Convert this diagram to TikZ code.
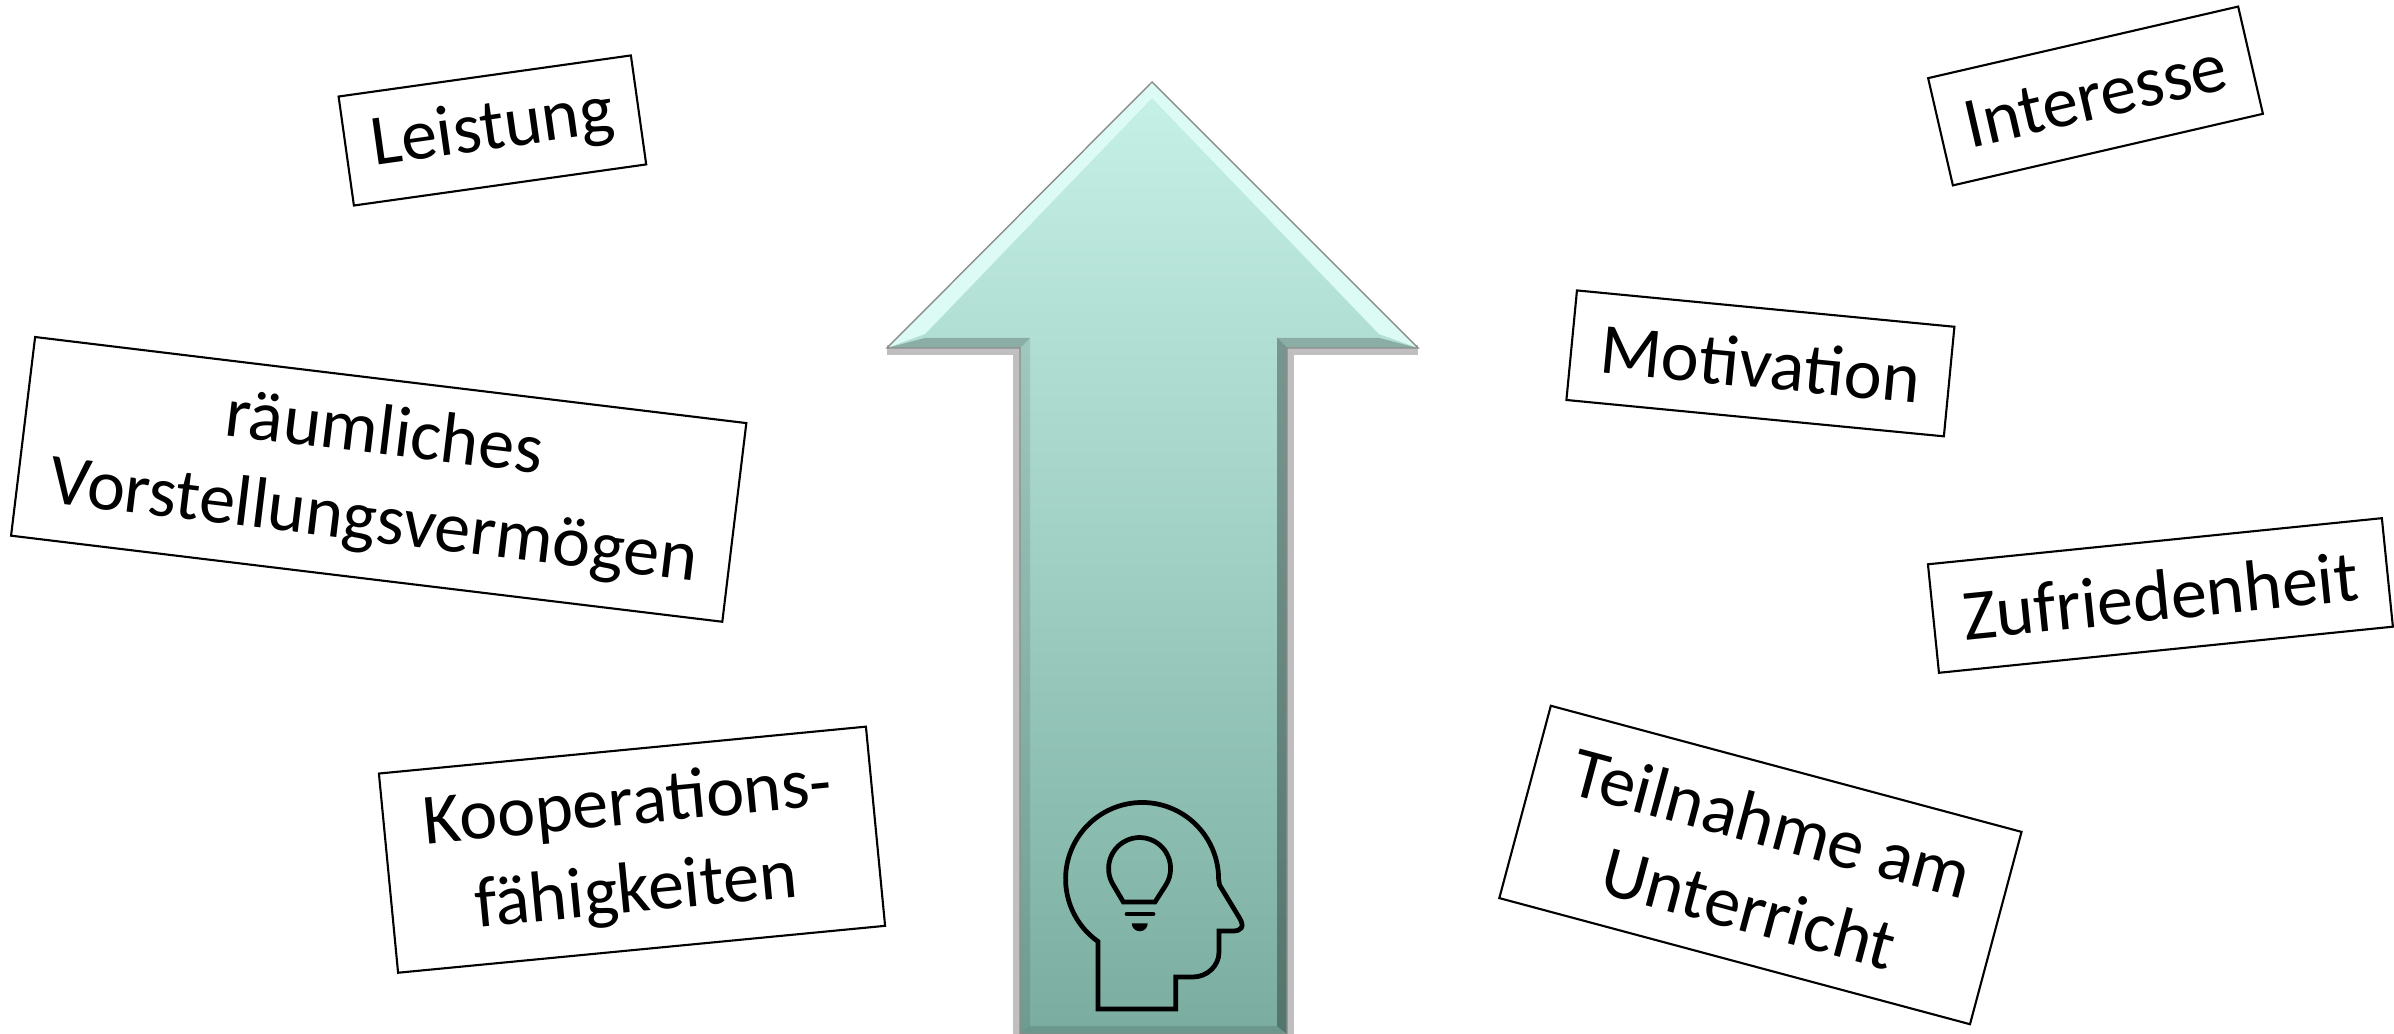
\documentclass[tikz,border=0pt]{standalone}
\usepackage{fontspec}
\setmainfont{Carlito}
\usepackage{xcolor}
\definecolor{arrowtop}{RGB}{198,241,231}
\definecolor{arrowbottom}{RGB}{122,173,160}
\definecolor{bevellight}{RGB}{220,251,245}
\begin{document}
\begin{tikzpicture}[x=0.01cm,y=0.01cm,
        term box/.style={draw=black,line width=0.6pt,fill=white,inner sep=0pt,align=center,
          font=\fontsize{20.5}{25}\selectfont},
        bevel dark/.style={fill=black,fill opacity=#1,draw=none},
        icon line/.style={draw=black,line width=1.35pt,line join=miter}
      ]
      \useasboundingbox (0,0) rectangle (2394,1034);

      % big arrow
      \draw[black,opacity=.25,line width=3pt] (887,684) -- (1018,684) -- (1018,0);
      \draw[black,opacity=.25,line width=3pt] (1418,684) -- (1289,684) -- (1289,0);
      \shade[top color=arrowtop,bottom color=arrowbottom]
        (1152,952) -- (1418,686) -- (1287,686) -- (1287,0) -- (1020,0) -- (1020,686) -- (887,686) -- cycle;

      % bevel of the arrow
      \fill[bevellight] (1152,952) -- (887,686) -- (925,700) -- (1152,936) -- (1379,700) -- (1418,686) -- cycle;
      \path[bevel dark=.22] (887,686) -- (1020,686) -- (1030,696) -- (925,696) -- cycle;
      \path[bevel dark=.22] (1418,686) -- (1287,686) -- (1277,696) -- (1379,696) -- cycle;
      \path[bevel dark=.10] (1020,686) -- (1030,696) -- (1030,8) -- (1020,0) -- cycle;
      \path[bevel dark=.32] (1287,686) -- (1277,696) -- (1277,8) -- (1287,0) -- cycle;
      \path[bevel dark=.12] (1020,0) -- (1030,8) -- (1277,8) -- (1287,0) -- cycle;
      \draw[black!45,line width=0.4pt] (1152,952) -- (1418,686) -- (1287,686) -- (1287,0) -- (1020,0) -- (1020,686) -- (887,686) -- cycle;

      % head with lamp
      \draw[icon line] (1098,25) -- (1098,92.5) arc[start angle=234.8,end angle=0,radius=76.5]
        -- (1219.5,149) -- (1239.5,116) .. controls (1245,107) and (1241,103) .. (1233,103)
        -- (1219,103) -- (1219,82) .. controls (1219,68) and (1207,57) .. (1193,57)
        -- (1175.7,57) -- (1175.7,25) -- cycle;
      \draw[icon line] (1123.3,132) -- (1113.3,149) arc[start angle=212,end angle=-32,radius=31] -- (1155,132) -- cycle;
      \draw[icon line,line cap=round] (1127,120) -- (1153,120);
      \fill[black] (1131.7,110.7) arc[start angle=180,end angle=360,radius=8] -- cycle;

      % terms left of the arrow
      \node[term box,minimum width=2.95cm,minimum height=1.10cm,rotate=8] (leistung) at (492.4,903.5) {Leistung};
      \node[term box,minimum width=7.16cm,minimum height=2.00cm,rotate=-6.9] (raum) at (378.7,554.6) {räumliches\\Vorstellungsvermögen};
      \node[term box,minimum width=4.89cm,minimum height=2.00cm,rotate=5.5] (kooperation) at (632,184.3) {Kooperations-\\fähigkeiten};

      % terms right of the arrow
      \node[term box,minimum width=3.18cm,minimum height=1.10cm,rotate=13] (interesse) at (2095.5,938) {Interesse};
      \node[term box,minimum width=3.79cm,minimum height=1.10cm,rotate=-5.5] (motivation) at (1760.4,670.6) {Motivation};
      \node[term box,minimum width=4.56cm,minimum height=1.09cm,rotate=5.8] (zufriedenheit) at (2160.4,438.5) {Zufriedenheit};
      \node[term box,minimum width=4.87cm,minimum height=1.99cm,rotate=-15] (teilnahme) at (1760.4,169) {Teilnahme am\\Unterricht};
    \end{tikzpicture}
\end{document}
